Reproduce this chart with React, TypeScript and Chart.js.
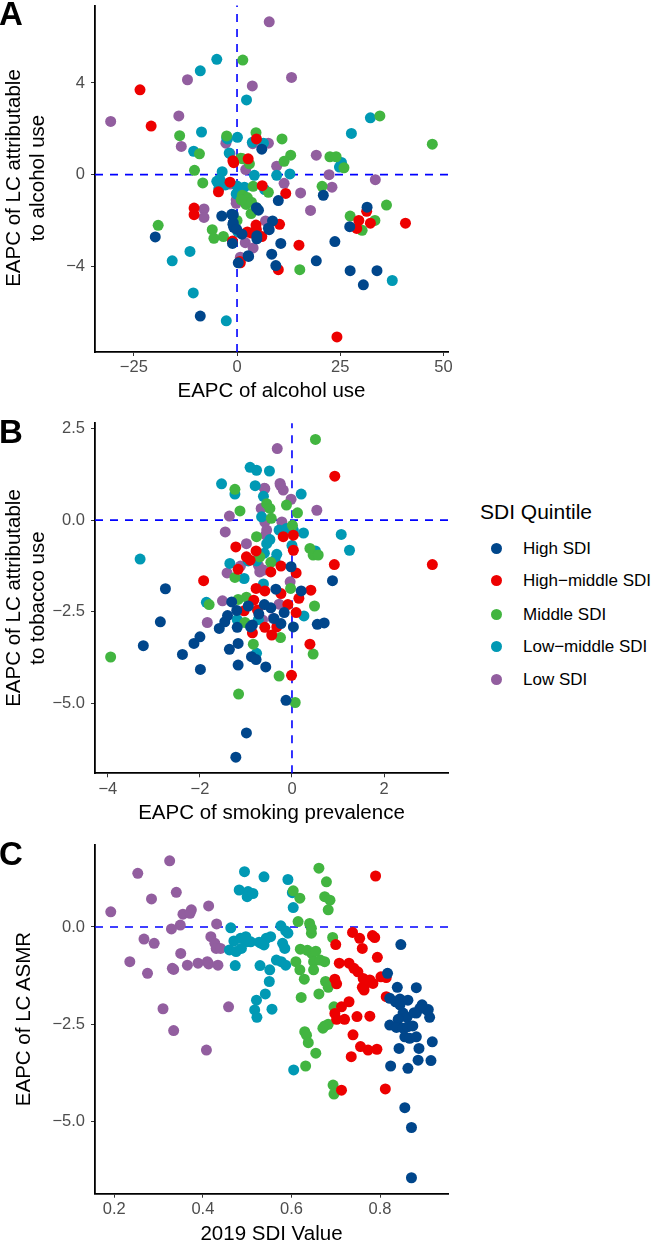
import React, { useEffect, useRef } from "react";
import { Chart, registerables } from "chart.js";

Chart.register(...registerables);

const FONT = "'Liberation Sans', Arial, Helvetica, sans-serif";

// ---------- legend / groups ----------
const groupNames = ["High SDI", "High\u2212middle SDI", "Middle SDI", "Low\u2212middle SDI", "Low SDI"];
const groupColors = ["#00468B", "#ED0000", "#42B540", "#0099B4", "#925E9F"];

// ---------- Panel A: EAPC of alcohol use vs EAPC of LC attributable to alcohol use ----------
const alcHigh: number[][] = [
  [6.0, 1.11], [20.9, -0.9], [10.0, -1.13], [-3.7, -1.81], [-0.9, -1.75], [-0.9, -2.1], [-0.8, -2.3], [4.7, -1.44],
  [8.6, -2.02], [7.8, -2.4], [4.8, -2.8], [-19.8, -2.72], [-1.1, -3.0], [2.8, -3.57], [0.3, -3.85], [10.6, -3.0],
  [8.4, -3.47], [9.4, -3.97], [19.2, -3.76], [-8.9, -6.17], [31.5, -1.42], [27.3, -2.27], [23.7, -2.92], [27.4, -4.19],
  [33.9, -4.19], [30.6, -4.81], [5.2, -1.55], [-1.3, -1.73], [-1.0, -2.17], [-0.1, -2.38], [7.6, -2.34], [4.8, -2.67],
  [2.7, -3.54], [1.2, -2.6],
];
const alcHighMid: number[][] = [
  [-23.5, 3.7], [-20.8, 2.12], [4.7, 1.56], [-0.8, 0.52], [2.7, 0.69], [-1.0, 0.61], [-4.5, -0.75], [6.1, -0.48],
  [11.8, -0.82], [-10.4, -1.46], [-10.4, -1.75], [10.3, -2.17], [2.5, -2.5], [4.7, -2.4], [6.0, -2.7], [4.6, -2.2],
  [-1.1, -2.9], [0.8, -3.85], [15.0, -3.08], [10.0, -4.15], [31.4, -1.6], [29.5, -2.0], [29.0, -2.35], [32.3, -2.12],
  [40.8, -2.12], [24.2, -7.08], [-1.7, -0.33], [0.7, -3.79], [3.5, -2.55],
];
const alcMid: number[][] = [
  [1.4, 5.0], [-13.9, 1.7], [-2.5, 1.69], [4.6, 1.83], [10.9, 1.56], [-9.1, 0.91], [13.0, 0.85], [11.4, 0.58],
  [22.5, 0.78], [24.0, 0.78], [0.9, 0.72], [3.0, 0.47], [-10.3, 0.19], [-8.3, -0.36], [3.9, -0.51], [20.6, -0.51],
  [1.3, -0.9], [2.2, -1.3], [3.4, -1.7], [0.0, -2.0], [-6.0, -2.4], [-5.6, -2.78], [-3.3, -2.7], [-19.1, -2.21],
  [15.2, -4.15], [34.6, 2.56], [47.3, 1.33], [25.9, 0.3], [36.2, -1.33], [27.4, -1.81], [30.3, -2.43], [33.4, -2.0],
  [7.6, -0.77], [2.5, -1.0], [3.5, -1.2], [4.7, -1.45], [1.4, 0.69], [1.0, -1.1],
];
const alcLowMid: number[][] = [
  [-4.9, 5.03], [-8.9, 4.53], [2.3, 3.26], [-8.6, 1.86], [-2.5, 1.6], [0.1, 1.63], [3.7, 1.41], [6.4, 1.37],
  [-10.5, 1.02], [-3.6, 0.13], [4.2, -0.03], [9.6, -0.03], [12.8, 0.03], [-4.9, -0.29], [-4.4, -0.6], [-0.2, -0.84],
  [1.8, -0.55], [6.7, -0.65], [2.3, -1.2], [0.2, -2.5], [-11.4, -3.35], [-15.7, -3.76], [-10.6, -5.16], [-2.6, -6.38],
  [32.3, 2.48], [27.7, 1.8], [25.3, 0.53], [24.8, 0.33], [37.6, -4.62], [-2.3, 1.56], [-1.9, 0.94], [-4.2, -0.2],
  [0.0, -0.5], [-2.8, -0.45],
];
const alcLow: number[][] = [
  [7.8, 6.67], [-12.0, 4.14], [13.2, 4.24], [3.7, 3.87], [-30.6, 2.32], [-14.1, 2.56], [-13.5, 1.23], [3.8, 1.35],
  [7.6, 1.37], [9.6, 0.37], [19.2, 0.85], [-1.7, 0.92], [2.1, 0.22], [22.3, 0.0], [-1.7, -0.41], [-3.0, -0.4],
  [11.4, -0.38], [15.4, -0.8], [-0.2, -1.25], [17.8, -1.56], [-8.0, -1.5], [-8.0, -1.87], [6.9, -2.02], [2.0, -2.97],
  [3.9, -3.2], [0.8, -3.6], [23.0, -0.55], [33.5, -0.22], [-2.7, 1.37], [-0.2, -1.1],
];
const alcXTicks = [-25, 0, 25, 50];
const alcYTicks = [-4, 0, 4];

// ---------- Panel B: EAPC of smoking prevalence vs EAPC of LC attributable to tobacco ----------
const tobHigh: number[][] = [
  [-0.02, -1.27], [0.88, -1.65], [-0.35, -1.88], [0.2, -1.93], [-1.31, -2.23], [-1.2, -2.46], [-0.46, -2.39],
  [-0.17, -2.52], [-0.72, -2.56], [-1.58, -2.95], [-1.46, -2.77], [-1.19, -2.92], [-0.9, -2.91], [-0.39, -2.68],
  [-0.24, -2.82], [0.03, -2.91], [0.55, -2.84], [-2.13, -3.36], [-2.0, -3.18], [-2.38, -3.66], [-1.36, -3.52],
  [-1.17, -3.36], [-0.88, -3.72], [-0.78, -3.8], [-1.17, -3.95], [-0.57, -4.0], [-1.99, -4.07], [-3.23, -3.42],
  [-2.86, -2.77], [-2.75, -1.87], [-0.13, -4.91], [-0.99, -5.8], [-1.22, -6.46], [0.7, -2.8], [-1.4, -2.6],
  [-0.6, -2.3], [-0.95, -2.34], [-0.86, -2.86],
];
const tobHighMid: number[][] = [
  [-1.22, -0.73], [-0.78, -0.84], [-0.99, -1.0], [-0.91, -1.09], [-1.17, -1.34], [-0.24, -1.25], [-0.46, -1.41],
  [0.09, -1.44], [-1.92, -1.65], [-0.78, -1.86], [-0.59, -1.93], [-0.24, -2.0], [0.41, -1.91], [0.15, -2.13],
  [-0.83, -2.18], [-0.75, -2.45], [-1.04, -2.47], [-0.09, -2.3], [0.09, -2.52], [-0.86, -3.07], [-0.59, -2.92],
  [-0.44, -3.13], [-0.33, -2.91], [0.39, -3.38], [-0.01, -4.23], [-0.19, -0.45], [0.03, -0.41], [0.03, -0.82],
  [0.93, 1.2], [0.92, -1.21], [3.05, -1.21],
];
const tobMid: number[][] = [
  [0.51, 2.2], [-1.24, 0.84], [-0.12, 0.41], [-0.55, 0.45], [-0.48, 0.32], [-1.13, 0.25], [0.12, 0.2], [0.01, -0.14],
  [-0.77, -0.45], [0.39, -0.77], [0.46, -0.95], [0.57, -0.95], [-0.46, -1.15], [-1.24, -1.56], [-0.03, -1.86],
  [-1.8, -2.3], [-1.17, -2.16], [-0.99, -2.1], [0.49, -2.34], [-1.02, -2.79], [-0.25, -3.2], [-0.84, -3.38],
  [0.46, -3.65], [-3.94, -3.73], [-0.28, -4.25], [-1.16, -4.74], [0.07, -4.97], [-0.45, 0.05], [-0.7, -1.0],
];
const tobLowMid: number[][] = [
  [-0.91, 1.44], [-0.77, 1.36], [-0.49, 1.34], [-1.53, 0.99], [-0.8, 0.94], [-1.24, 0.71], [-0.62, 0.65], [0.2, 0.71],
  [-0.66, 0.09], [-0.28, -0.27], [-0.12, -0.23], [0.03, -0.27], [0.25, -0.35], [0.0, -0.69], [-0.55, -0.64],
  [-0.48, -0.53], [0.51, -0.84], [-0.33, -0.93], [-0.37, -1.09], [-0.77, -1.11], [-0.95, -1.11], [-1.35, -1.18],
  [-1.04, -1.59], [-0.62, -1.74], [-1.86, -2.24], [0.26, -2.61], [-1.19, -2.71], [-0.73, -2.71], [-0.77, -3.63],
  [-3.3, -1.06], [1.07, -0.39], [1.25, -0.82], [-0.6, -0.9],
];
const tobLow: number[][] = [
  [-0.32, 1.95], [-0.6, 0.87], [-0.25, 0.95], [-0.19, 0.82], [-0.26, 1.0], [-0.02, 0.57], [-0.67, 0.32],
  [-1.36, 0.11], [0.54, 0.27], [-1.45, -0.32], [-0.22, -0.05], [-0.59, -0.05], [-0.55, -0.27], [-0.57, -0.4],
  [-0.99, -0.64], [-1.12, -1.25], [-0.73, -1.23], [-0.62, -1.36], [-0.7, -1.41], [-1.41, -1.44], [-0.04, -1.68],
  [-1.51, -2.2], [-0.28, -2.29], [-1.84, -2.79], [-0.64, -2.72], [-0.41, -2.68], [-0.59, 0.86],
];
const tobXTicks = [-4, -2, 0, 2];
const tobYTicks = [-5, -2.5, 0, 2.5];

// ---------- Panel C: 2019 SDI value vs EAPC of LC ASMR ----------
const sdiHigh: number[][] = [
  [0.847, -0.45], [0.817, -1.19], [0.839, -1.55], [0.882, -1.56], [0.822, -1.83], [0.845, -1.85], [0.863, -1.88],
  [0.845, -2.0], [0.835, -1.92], [0.89, -2.09], [0.905, -2.13], [0.912, -2.32], [0.909, -2.12], [0.852, -2.21],
  [0.861, -2.32], [0.882, -2.21], [0.841, -2.37], [0.822, -2.52], [0.837, -2.58], [0.852, -2.6], [0.863, -2.56],
  [0.874, -2.54], [0.856, -2.82], [0.867, -2.86], [0.882, -2.82], [0.918, -2.95], [0.843, -3.12], [0.888, -3.12],
  [0.886, -3.42], [0.915, -3.43], [0.824, -3.57], [0.863, -3.63], [0.856, -4.64], [0.871, -5.15], [0.871, -6.44],
  [0.895, -2.0], [0.877, -2.2],
];
const sdiHighMid: number[][] = [
  [0.79, 1.31], [0.738, -0.14], [0.754, -0.29], [0.76, -0.55], [0.783, -0.22], [0.788, -0.27], [0.794, -0.78],
  [0.7, -0.45], [0.708, -0.93], [0.73, -0.93], [0.741, -1.06], [0.75, -1.15], [0.762, -1.32], [0.777, -1.36],
  [0.784, -1.45], [0.76, -1.55], [0.764, -1.62], [0.802, -1.28], [0.814, -1.3], [0.814, -1.79], [0.698, -1.34],
  [0.702, -1.46], [0.73, -1.92], [0.713, -2.05], [0.698, -2.22], [0.702, -2.37], [0.72, -2.37], [0.748, -2.3],
  [0.777, -2.29], [0.739, -2.77], [0.756, -3.07], [0.773, -3.16], [0.793, -3.14], [0.735, -3.33], [0.713, -4.19],
  [0.812, -4.16], [0.765, -1.49],
];
const sdiMid: number[][] = [
  [0.662, 1.51], [0.679, 1.16], [0.604, 0.93], [0.619, 0.74], [0.675, 0.78], [0.687, 0.69], [0.683, 0.44],
  [0.615, 0.14], [0.641, 0.09], [0.645, -0.16], [0.645, -0.03], [0.62, -0.57], [0.636, -0.6], [0.646, -0.68],
  [0.655, -0.62], [0.61, -0.89], [0.619, -1.1], [0.629, -1.34], [0.65, -0.89], [0.665, -0.85], [0.675, -0.89],
  [0.65, -1.1], [0.677, -1.4], [0.683, -1.55], [0.662, -1.72], [0.622, -1.81], [0.675, -2.54], [0.683, -2.5],
  [0.63, -2.69], [0.634, -2.78], [0.638, -2.97], [0.655, -3.24], [0.632, -3.57], [0.694, -4.06], [0.696, -4.29],
  [0.693, -0.27], [0.696, -2.05], [0.671, -2.6],
];
const sdiLowMid: number[][] = [
  [0.494, 1.42], [0.538, 1.29], [0.592, 1.22], [0.482, 0.95], [0.502, 0.91], [0.5, 0.78], [0.513, 0.86],
  [0.602, 0.88], [0.604, 0.5], [0.463, -0.02], [0.576, 0.03], [0.587, -0.1], [0.592, -0.16], [0.47, -0.36],
  [0.485, -0.29], [0.497, -0.25], [0.508, -0.38], [0.499, -0.38], [0.46, -0.59], [0.475, -0.63], [0.487, -0.55],
  [0.527, -0.39], [0.538, -0.46], [0.553, -0.25], [0.58, -0.42], [0.585, -0.55], [0.566, -0.85], [0.577, -0.89],
  [0.587, -0.98], [0.473, -0.99], [0.529, -0.99], [0.551, -1.1], [0.55, -1.4], [0.541, -1.72], [0.521, -1.88],
  [0.517, -2.13], [0.522, -2.32], [0.556, -2.11], [0.605, -3.67], [0.543, -0.29], [0.532, -0.42],
];
const sdiLow: number[][] = [
  [0.192, 0.39], [0.253, 1.38], [0.325, 1.7], [0.284, 0.72], [0.34, 0.89], [0.413, 0.54], [0.355, 0.33],
  [0.374, 0.44], [0.371, 0.35], [0.349, 0.05], [0.329, -0.05], [0.431, 0.08], [0.267, -0.31], [0.29, -0.42],
  [0.418, -0.25], [0.427, -0.42], [0.43, -0.55], [0.44, -0.55], [0.35, -0.68], [0.235, -0.89], [0.275, -1.19],
  [0.331, -1.06], [0.334, -1.09], [0.365, -0.98], [0.389, -0.93], [0.41, -0.89], [0.413, -0.95], [0.434, -0.98],
  [0.31, -2.1], [0.334, -2.66], [0.408, -3.16], [0.458, -2.05],
];
const sdiXTicks = [0.2, 0.4, 0.6, 0.8];
const sdiYTicks = [-5, -2.5, 0];

// ---------- helpers ----------
const MINUS = "\u2212";
const fmtInt = (v: number) => (v < 0 ? MINUS : "") + String(Math.abs(v));
const fmt1 = (v: number) => (v < 0 ? MINUS : "") + Math.abs(v).toFixed(1);

const refLinePlugin = {
  id: "refLines",
  beforeDatasetsDraw(chart: any, _args: any, opts: any) {
    const { ctx, chartArea: a, scales } = chart;
    ctx.save();
    ctx.strokeStyle = "#0000FF";
    ctx.lineWidth = 1.6;
    ctx.setLineDash([8, 7]);
    const y0 = scales.y.getPixelForValue(0);
    ctx.beginPath();
    ctx.moveTo(a.left, y0);
    ctx.lineTo(a.right, y0);
    ctx.stroke();
    if (opts && opts.vertical) {
      const x0 = scales.x.getPixelForValue(0);
      ctx.beginPath();
      ctx.moveTo(x0, a.bottom);
      ctx.lineTo(x0, a.top);
      ctx.stroke();
    }
    ctx.restore();
  },
};

type PanelCfg = {
  groups: number[][][];
  xMin: number; xMax: number; yMin: number; yMax: number;
  xTicks: number[]; yTicks: number[];
  xFmt: (v: number) => string; yFmt: (v: number) => string;
  vLine: boolean;
  top: number; height: number; areaTop: number; areaBottom: number;
};

const CANVAS_W = 460;
const AREA_LEFT = 95;
const AREA_RIGHT = 448;

function Panel({ cfg }: { cfg: PanelCfg }) {
  const ref = useRef<HTMLCanvasElement>(null);
  useEffect(() => {
    const tickFont = { family: FONT, size: 16.5 };
    const chart = new Chart(ref.current as HTMLCanvasElement, {
      type: "scatter",
      data: {
        datasets: cfg.groups.map((pts, i) => ({
          label: groupNames[i],
          data: pts.map(([x, y]) => ({ x, y })),
          backgroundColor: groupColors[i],
          borderColor: groupColors[i],
          pointBorderWidth: 0,
          pointRadius: 5.5,
          pointHoverRadius: 5.5,
        })),
      },
      options: {
        responsive: false,
        animation: false,
        events: [],
        layout: { padding: { top: cfg.areaTop - cfg.top, left: 0, right: CANVAS_W - AREA_RIGHT, bottom: 0 } },
        plugins: {
          legend: { display: false },
          tooltip: { enabled: false },
          refLines: { vertical: cfg.vLine },
        } as any,
        scales: {
          x: {
            type: "linear",
            min: cfg.xMin,
            max: cfg.xMax,
            afterBuildTicks: (s: any) => { s.ticks = cfg.xTicks.map((v) => ({ value: v })); },
            afterFit: (s: any) => {
              s.height = cfg.top + cfg.height - cfg.areaBottom;
              s.paddingLeft = 0; s.paddingRight = 0; s.paddingTop = 0; s.paddingBottom = 0;
            },
            grid: { display: true, drawOnChartArea: false, drawTicks: true, tickLength: 4, color: "#333333", lineWidth: 1 },
            border: { display: true, color: "#000000", width: 1.8 },
            ticks: {
              color: "#4D4D4D", font: tickFont, padding: 2, maxRotation: 0, autoSkip: false,
              callback: (v: any) => cfg.xFmt(Number(v)),
            },
          },
          y: {
            type: "linear",
            min: cfg.yMin,
            max: cfg.yMax,
            afterBuildTicks: (s: any) => { s.ticks = cfg.yTicks.map((v) => ({ value: v })); },
            afterFit: (s: any) => {
              s.width = AREA_LEFT;
              s.paddingLeft = 0; s.paddingRight = 0; s.paddingTop = 0; s.paddingBottom = 0;
            },
            grid: { display: true, drawOnChartArea: false, drawTicks: true, tickLength: 4, color: "#333333", lineWidth: 1 },
            border: { display: true, color: "#000000", width: 1.8 },
            ticks: {
              color: "#4D4D4D", font: tickFont, padding: 6, autoSkip: false,
              callback: (v: any) => cfg.yFmt(Number(v)),
            },
          },
        },
      } as any,
      plugins: [refLinePlugin as any],
    });
    return () => chart.destroy();
  }, []);
  return (
    <canvas
      ref={ref}
      width={CANVAS_W}
      height={cfg.height}
      style={{ position: "absolute", left: 0, top: cfg.top, width: CANVAS_W, height: cfg.height }}
    />
  );
}

const panelA: PanelCfg = {
  groups: [alcHigh, alcHighMid, alcMid, alcLowMid, alcLow],
  xMin: -34.4, xMax: 51.1, yMin: -7.74, yMax: 7.38,
  xTicks: alcXTicks, yTicks: alcYTicks, xFmt: fmtInt, yFmt: fmtInt, vLine: true,
  top: 0, height: 380, areaTop: 3.3, areaBottom: 352,
};
const panelB: PanelCfg = {
  groups: [tobHigh, tobHighMid, tobMid, tobLowMid, tobLow],
  xMin: -4.28, xMax: 3.39, yMin: -6.9, yMax: 2.64,
  xTicks: tobXTicks, yTicks: tobYTicks, xFmt: fmtInt, yFmt: fmt1, vLine: true,
  top: 400, height: 400, areaTop: 423.3, areaBottom: 773.3,
};
const panelC: PanelCfg = {
  groups: [sdiHigh, sdiHighMid, sdiMid, sdiLowMid, sdiLow],
  xMin: 0.1564, xMax: 0.9535, yMin: -6.85, yMax: 2.106,
  xTicks: sdiXTicks, yTicks: sdiYTicks, xFmt: fmt1, yFmt: fmt1, vLine: false,
  top: 820, height: 420, areaTop: 845, areaBottom: 1193.7,
};

const abs = (extra: React.CSSProperties): React.CSSProperties => ({
  position: "absolute", margin: 0, padding: 0, whiteSpace: "nowrap", fontFamily: FONT, color: "#000", ...extra,
});

function XTitle({ text, top }: { text: string; top: number }) {
  return (
    <div style={abs({ left: AREA_LEFT, width: AREA_RIGHT - AREA_LEFT, top, fontSize: 20.5, lineHeight: "20.5px", textAlign: "center" })}>
      {text}
    </div>
  );
}

function YTitle({ lines, cx, cy }: { lines: string[]; cx: number; cy: number }) {
  const lh = 24;
  const w = 400;
  const h = lh * lines.length;
  return (
    <div
      style={abs({
        left: cx - w / 2, top: cy - h / 2, width: w, height: h, fontSize: 20.5, lineHeight: lh + "px",
        textAlign: "center", transform: "rotate(-90deg)", transformOrigin: "50% 50%",
      })}
    >
      {lines.map((l, i) => (
        <div key={i}>{l}</div>
      ))}
    </div>
  );
}

function Letter({ ch, top }: { ch: string; top: number }) {
  return <div style={abs({ left: -1, top, fontSize: 33, lineHeight: "33px", fontWeight: "bold" })}>{ch}</div>;
}

const legendRowsY = [548.3, 580.8, 614, 646.8, 679.5];

export default function App() {
  return (
    <div style={{ position: "absolute", left: 0, top: 0, width: 651, height: 1240, overflow: "hidden", background: "#fff" }}>
      <Panel cfg={panelA} />
      <Panel cfg={panelB} />
      <Panel cfg={panelC} />

      <Letter ch="A" top={-2.9} />
      <Letter ch="B" top={415.4} />
      <Letter ch="C" top={837.1} />

      <XTitle text="EAPC of alcohol use" top={380} />
      <XTitle text="EAPC of smoking prevalence" top={802} />
      <XTitle text="2019 SDI Value" top={1223} />

      <YTitle lines={["EAPC of LC attributable", "to alcohol use"]} cx={25} cy={177.7} />
      <YTitle lines={["EAPC of LC attributable", "to tobacco use"]} cx={25} cy={598.3} />
      <YTitle lines={["EAPC of LC ASMR"]} cx={23.3} cy={1019.3} />

      <div style={abs({ left: 480, top: 501, fontSize: 21, lineHeight: "21px" })}>SDI Quintile</div>
      {groupNames.map((name, i) => (
        <React.Fragment key={name}>
          <div
            style={{
              position: "absolute", left: 490.5, top: legendRowsY[i] - 5.5, width: 11, height: 11,
              borderRadius: "50%", background: groupColors[i],
            }}
          />
          <div style={abs({ left: 523, top: legendRowsY[i] - 8.5, fontSize: 17, lineHeight: "17px" })}>{name}</div>
        </React.Fragment>
      ))}
    </div>
  );
}
